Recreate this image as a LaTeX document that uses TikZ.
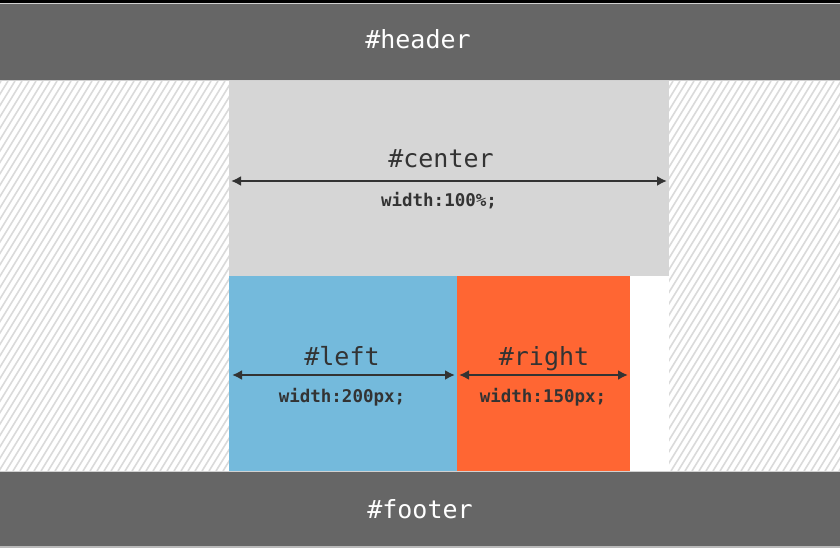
\documentclass[tikz,border=0pt]{standalone}
\usepackage{fontspec}
\setmonofont{DejaVu Sans Mono}
\usetikzlibrary{arrows.meta}
\definecolor{bar}{HTML}{666666}
\definecolor{centergray}{HTML}{D6D6D6}
\definecolor{leftblue}{HTML}{74BADC}
\definecolor{rightorange}{HTML}{FF6633}
\definecolor{ink}{HTML}{333333}
\definecolor{hatch}{HTML}{DADADA}
\tikzset{
  box/.style={draw=none, inner sep=0pt, outer sep=0pt, anchor=north west},
  title/.style={font=\ttfamily\fontsize{25}{27}\selectfont, text=ink, anchor=base, inner sep=0pt},
  bartitle/.style={font=\ttfamily\fontsize{25}{27}\selectfont, text=white, anchor=base, inner sep=0pt},
  sub/.style={font=\ttfamily\bfseries\fontsize{17.5}{19}\selectfont, text=ink, anchor=base, inner sep=0pt},
  dim/.style={draw=ink, line width=2pt, {Latex[length=10pt,width=10pt]}-{Latex[length=10pt,width=10pt]}},
}
\begin{document}
\begin{tikzpicture}[x=1pt,y=-1pt]
\useasboundingbox (0,0) rectangle (840,548);
\fill[white] (0,0) rectangle (840,548);
% hatched side areas
\begin{scope}
  \clip (0,81) rectangle (229,471) (669,81) rectangle (840,471);
  \foreach \i in {-40,...,160} {
    \draw[hatch, line width=1.6pt] (\i*7-120,471) -- (\i*7+120,81);
  }
\end{scope}
% top black strip
\fill[black] (0,0) rectangle (840,3);
\node[box, fill=bar, minimum width=840, minimum height=77] (header) at (0,3.5) {};
\draw[white!70!bar, line width=0.8pt] (0,3.5) -- (840,3.5);
\node[box, fill=centergray, minimum width=440, minimum height=195] (center) at (229,81) {};
\node[box, fill=leftblue, minimum width=228, minimum height=195] (left) at (229,276) {};
\node[box, fill=rightorange, minimum width=173, minimum height=195] (right) at (457,276) {};
\node[box, fill=bar, minimum width=840, minimum height=76] (footer) at (0,471) {};
\draw[white!70!bar, line width=0.8pt] (0,80.6) -- (840,80.6);
\draw[white!70!bar, line width=0.8pt] (0,471) -- (840,471);
\draw[white!55!bar, line width=1.5pt] (0,547.2) -- (840,547.2);
% labels
\node[bartitle] (headert) at (418,49) {\#header};
\node[bartitle] (footert) at (420,518) {\#footer};
\node[title] (centert) at (441,168) {\#center};
\node[sub] (centers) at (439,207) {width:100\%;};
\node[title] (leftt) at (342,365) {\#left};
\node[sub] (lefts) at (342,402) {width:200px;};
\node[title] (rightt) at (544,365) {\#right};
\node[sub] (rights) at (543,402) {width:150px;};
% dimension arrows
\coordinate (c1) at (231,181);
\coordinate (c2) at (667,181);
\coordinate (l1) at (232,375);
\coordinate (l2) at (455,375);
\coordinate (r1) at (459,375);
\coordinate (r2) at (628,375);
\draw[dim] (c1) -- (c2);
\draw[dim] (l1) -- (l2);
\draw[dim] (r1) -- (r2);
\end{tikzpicture}
\end{document}
